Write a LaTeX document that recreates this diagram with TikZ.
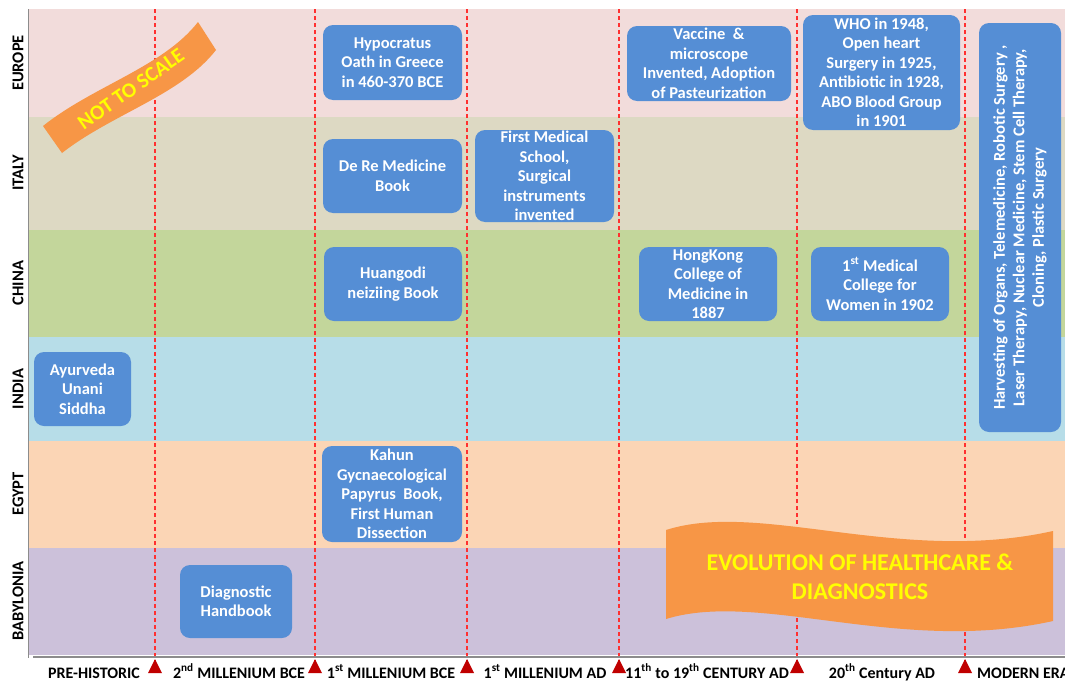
\documentclass[tikz,border=0pt]{standalone}
\usepackage{fontspec}
\setmainfont{Carlito}
\definecolor{bandEU}{HTML}{F2DCDB}
\definecolor{bandIT}{HTML}{DDD9C3}
\definecolor{bandCN}{HTML}{C3D69B}
\definecolor{bandIN}{HTML}{B7DDE8}
\definecolor{bandEG}{HTML}{FBD5B5}
\definecolor{bandBA}{HTML}{CCC1DA}
\definecolor{boxblue}{HTML}{558ED5}
\definecolor{flagorange}{HTML}{F79646}
\definecolor{flagtext}{HTML}{FFFF00}
\definecolor{eraline}{HTML}{FF3030}
\definecolor{tickred}{HTML}{C00000}
\definecolor{axisgray}{HTML}{8C8C8C}
\begin{document}
\begin{tikzpicture}[x=1pt,y=-1pt,
  era/.style={draw=eraline, dash pattern=on 4pt off 3pt, line width=1.2pt},
  evt/.style={fill=boxblue, rounded corners=10pt, text=white, align=center, inner sep=0pt,
    font=\bfseries\fontsize{16.5}{19.5}\selectfont},
  region/.style={rotate=90, font=\bfseries\fontsize{16.5}{18}\selectfont, text=black},
  period/.style={font=\bfseries\fontsize{16}{18}\selectfont, anchor=base, inner sep=0pt},
  tick/.style={fill=tickred},
  flag/.style={fill=flagorange},
  flagtxt/.style={text=flagtext, align=center, font=\bfseries\fontsize{24}{29}\selectfont},
]
\clip (0,0) rectangle (1065,680);
\fill[white] (0,0) rectangle (1065,680);
% bands
\fill[bandEU] (29,9) rectangle (1065,117);
\fill[bandIT] (29,117) rectangle (1065,230);
\fill[bandCN] (29,230) rectangle (1065,337);
\fill[bandIN] (29,337) rectangle (1065,441);
\fill[bandEG] (29,441) rectangle (1065,548);
\fill[bandBA] (29,548) rectangle (1065,655);
\draw[axisgray, line width=0.8pt] (28.5,9) -- (28.5,658);
% region labels
\node[region] (lEU) at (18,63) {EUROPE};
\node[region] (lIT) at (18,173) {ITALY};
\node[region] (lCN) at (18,283) {CHINA};
\node[region] (lIN) at (18,389) {INDIA};
\node[region] (lEG) at (18,494) {EGYPT};
\node[region] (lBA) at (18,601) {BABYLONIA};
% era dividers
\foreach \x in {155,315,467,619,797,965} {
  \draw[era] (\x,9) -- (\x,662);
}
% events
\node[evt, minimum width=139pt, minimum height=75pt] (hyp) at (392.5,62.5) {Hypocratus\\Oath in Greece\\in 460-370 BCE};
\node[evt, minimum width=164pt, minimum height=75pt] (vac) at (709,63.5) {Vaccine\ \ \&\\microscope\\Invented, Adoption\\of Pasteurization};
\node[evt, minimum width=157pt, minimum height=115pt] (who) at (881.5,72.5) {WHO in 1948,\\Open heart\\Surgery in 1925,\\Antibiotic in 1928,\\ABO Blood Group\\in 1901};
\node[evt, rotate=90, minimum width=409pt, minimum height=82pt] (mod) at (1020,227.5) {Harvesting of Organs, Telemedicine, Robotic Surgery ,\\Laser Therapy, Nuclear Medicine, Stem Cell Therapy,\\Cloning, Plastic Surgery};
\node[evt, minimum width=139pt, minimum height=74pt] (dere) at (392.5,176) {De Re Medicine\\Book};
\node[evt, minimum width=139pt, minimum height=92pt] (fms) at (544.5,176) {First Medical\\School,\\Surgical\\instruments\\invented};
\node[evt, minimum width=138pt, minimum height=74pt] (hua) at (393,284) {Huangodi\\neiziing Book};
\node[evt, minimum width=138pt, minimum height=74pt] (hk) at (708,284) {HongKong\\College of\\Medicine in\\1887};
\node[evt, minimum width=138pt, minimum height=74pt] (wom) at (880,284) {1\textsuperscript{st} Medical\\College for\\Women in 1902};
\node[evt, minimum width=97pt, minimum height=74pt] (ayu) at (82.5,389) {Ayurveda\\Unani\\Siddha};
\node[evt, minimum width=140pt, minimum height=96pt] (kah) at (392,494) {Kahun\\Gycnaecological\\Papyrus\ \ Book,\\First Human\\Dissection};
\node[evt, minimum width=112pt, minimum height=73pt] (dia) at (236,601.5) {Diagnostic\\Handbook};
% banners
\fill[flag] (43,126) .. controls (93,86) and (163,67) .. (198,22) -- (216,50)
  .. controls (181,95) and (112,114) .. (62,153) -- cycle;
\node[flagtxt, rotate=35, font=\bfseries\fontsize{21}{24}\selectfont] (nts) at (131,89) {NOT TO SCALE};
\fill[flag] (666,530) .. controls (760,500) and (900,565) .. (1053,531) -- (1053,621)
  .. controls (900,655) and (760,590) .. (666,619) -- cycle;
\node[flagtxt] (evo) at (860,577) {EVOLUTION OF HEALTHCARE \&\\DIAGNOSTICS};
% axis
\draw[axisgray, line width=1.5pt] (33,657) -- (1065,657);
\foreach \x in {155,315,467,619,797,965} {
  \fill[tick] (\x-7,673) -- (\x,659) -- (\x+7,673) -- cycle;
}
\node[period] (p1) at (94,678) {PRE-HISTORIC};
\node[period] (p2) at (239,678) {2\textsuperscript{nd} MILLENIUM BCE};
\node[period] (p3) at (391,678) {1\textsuperscript{st} MILLENIUM BCE};
\node[period] (p4) at (545,678) {1\textsuperscript{st} MILLENIUM AD};
\node[period] (p5) at (707,678) {11\textsuperscript{th} to 19\textsuperscript{th} CENTURY AD};
\node[period] (p6) at (882,678) {20\textsuperscript{th} Century AD};
\node[period, anchor=base west] (p7) at (977,678) {MODERN ERA};
\end{tikzpicture}
\end{document}
